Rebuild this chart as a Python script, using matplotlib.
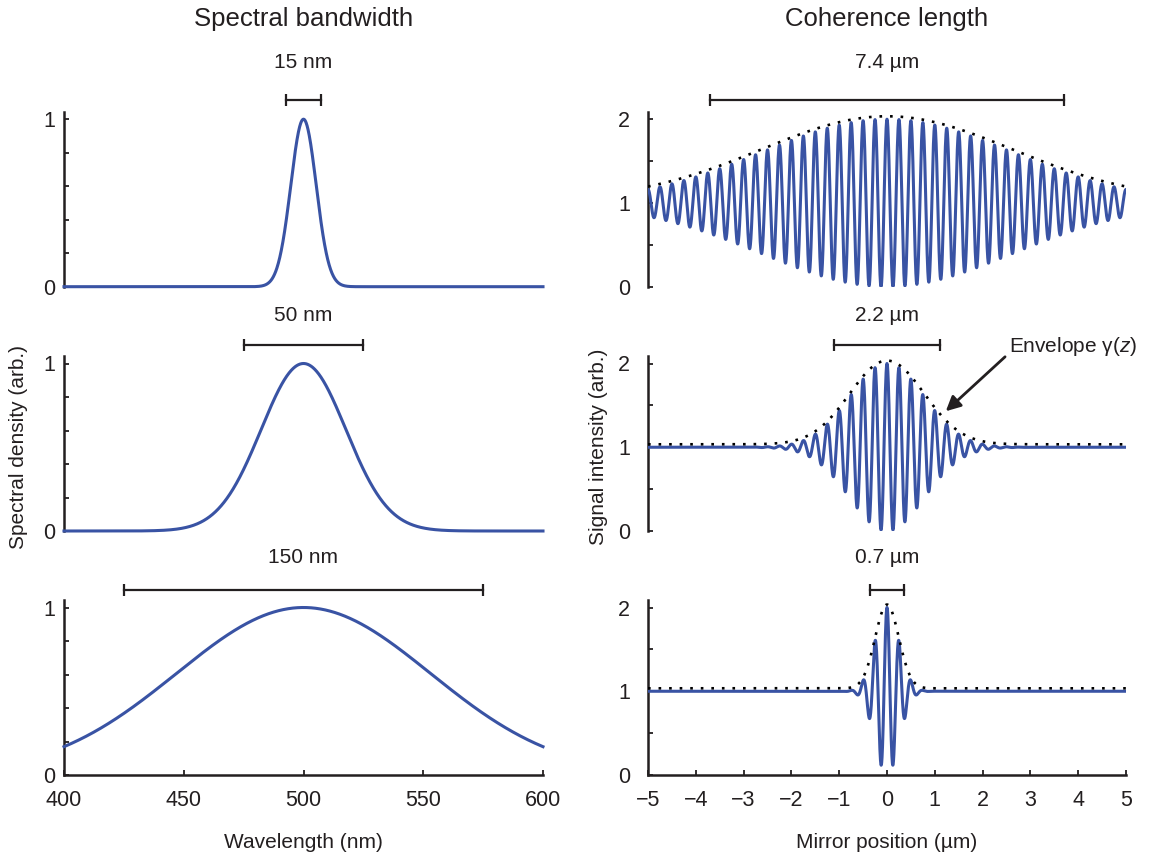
import numpy as np
import matplotlib
matplotlib.use('Agg')
import matplotlib.pyplot as plt

# ---------------- data ----------------
center_wavelength_nm = 500.0
bandwidths_nm = [15, 50, 150]                 # 1/e full widths of the spectra
bandwidth_labels = ['15 nm', '50 nm', '150 nm']
coherence_lengths_um = [7.4, 2.2, 0.7]        # 1/e full widths of the envelopes
coherence_labels = ['7.4 µm', '2.2 µm', '0.7 µm']
fringe_period_um = 0.25                       # lambda/2 in mirror position
wavelength_ticks = [400, 450, 500, 550, 600]
position_ticks = [-5, -4, -3, -2, -1, 0, 1, 2, 3, 4, 5]
spectral_yticks = [0, 0.2, 0.4, 0.6, 0.8, 1.0]
spectral_yticklabels = ['0', '', '', '', '', '1']
signal_yticks = [0, 0.5, 1, 1.5, 2]
signal_yticklabels = ['0', '', '1', '', '2']

# ---------------- style ----------------
plt.rcParams['font.family'] = ['Liberation Sans', 'DejaVu Sans']
plt.rcParams['mathtext.fontset'] = 'custom'
plt.rcParams['mathtext.rm'] = 'Liberation Sans'
plt.rcParams['mathtext.it'] = 'Liberation Sans:italic'
plt.rcParams['axes.unicode_minus'] = True

BLUE = '#3953a4'
INK = '#231f20'
FS = 15
TICK_FS = 15.5
W, H = 1149, 859

fig = plt.figure(figsize=(W / 100, H / 100), dpi=100)

def fig_rect(x0, y0, w, h):
    return [x0 / W, 1 - y0 / H, w / W, h / H]

row_base_px = [286.7, 531.0, 775.0]
unit_px = 167.5
ax_h_px = unit_px * 1.045
bar_frac = [1.115, 1.11, 1.104]
label_frac = [1.336, 1.284, 1.30]
env_offset = 0.035

wl = np.linspace(400, 600, 2001)
z = np.linspace(-5, 5, 8001)

def style_axes(ax, bottom):
    for s in ['top', 'right']:
        ax.spines[s].set_visible(False)
    ax.spines['left'].set_linewidth(1.8)
    ax.spines['left'].set_color(INK)
    if bottom:
        ax.spines['bottom'].set_linewidth(1.8)
        ax.spines['bottom'].set_color(INK)
    else:
        ax.spines['bottom'].set_visible(False)
        ax.set_xticks([])
    ax.tick_params(direction='in', length=3.5, width=1.3, color=INK,
                   labelsize=TICK_FS, labelcolor=INK)

axes_left, axes_right = [], []
for i in range(3):
    y0 = row_base_px[i]
    axl = fig.add_axes(fig_rect(64, y0, 479, ax_h_px))
    axr = fig.add_axes(fig_rect(648, y0, 478, ax_h_px))
    axes_left.append(axl)
    axes_right.append(axr)
    bottom = (i == 2)

    # ---- spectrum ----
    bw = bandwidths_nm[i]
    spec = np.exp(-((wl - center_wavelength_nm) / (bw / 2)) ** 2)
    axl.plot(wl, spec, color=BLUE, lw=2.2, clip_on=False, zorder=3)
    axl.set_xlim(400, 600)
    axl.set_ylim(0, 1.045)
    style_axes(axl, bottom)
    axl.set_yticks(spectral_yticks)
    axl.set_yticklabels(spectral_yticklabels)
    axl.tick_params(axis='y', pad=6.5)
    xb = [center_wavelength_nm - bw / 2, center_wavelength_nm + bw / 2]
    axl.plot(xb, [bar_frac[i]] * 2, color=INK, lw=1.6, marker='|', ms=9,
             mew=1.6, clip_on=False)
    axl.text(center_wavelength_nm, label_frac[i], bandwidth_labels[i],
             ha='center', va='center', fontsize=FS, color=INK)

    # ---- interferogram ----
    lc = coherence_lengths_um[i]
    env = np.exp(-(2 * z / lc) ** 2)
    sig = 1 + env * np.cos(2 * np.pi * z / fringe_period_um)
    axr.plot(z, sig, color=BLUE, lw=2.2, zorder=3)
    axr.plot(z, 1 + env_offset + env, color='black', lw=1.9,
             dashes=(1, 3.0), zorder=4)
    axr.set_xlim(-5, 5)
    axr.set_ylim(0, 2.09)
    style_axes(axr, bottom)
    axr.set_yticks(signal_yticks)
    axr.set_yticklabels(signal_yticklabels)
    axr.tick_params(axis='y', pad=13)
    axr.plot([-lc / 2, lc / 2], [2 * bar_frac[i]] * 2, color=INK, lw=1.6,
             marker='|', ms=9, mew=1.6, clip_on=False)
    axr.text(0, 2 * label_frac[i], coherence_labels[i],
             ha='center', va='center', fontsize=FS, color=INK)

    if bottom:
        axl.set_xticks(wavelength_ticks)
        axl.tick_params(axis='x', pad=11)
        axr.set_xticks(position_ticks)
        axr.tick_params(axis='x', pad=11)
        axl.set_xlabel('Wavelength (nm)', fontsize=FS, color=INK, labelpad=16)
        axr.set_xlabel('Mirror position (µm)', fontsize=FS, color=INK, labelpad=16)

# titles
axes_left[0].text(0.5, (286.7 - 19) / ax_h_px, 'Spectral bandwidth',
                  transform=axes_left[0].transAxes, ha='center', va='center',
                  fontsize=18.5, color=INK)
axes_right[0].text(0.5, (286.7 - 19) / ax_h_px, 'Coherence length',
                   transform=axes_right[0].transAxes, ha='center', va='center',
                   fontsize=18.5, color=INK)

# y labels
axes_left[1].set_ylabel('Spectral density (arb.)', fontsize=FS, color=INK)
axes_left[1].yaxis.set_label_coords((28 - 64) / 479, 0.48)
axes_right[1].set_ylabel('Signal intensity (arb.)', fontsize=FS, color=INK)
axes_right[1].yaxis.set_label_coords((608 - 648) / 478, 0.48)

# envelope annotation
axm = axes_right[1]
axm.text(2.55, 2.2, r'Envelope γ($\mathit{z}$)', ha='left', va='center',
         fontsize=FS, color=INK, clip_on=False)
axm.annotate('', xy=(1.23, 1.43), xytext=(2.47, 2.08),
             arrowprops=dict(arrowstyle='-|>', lw=2, color=INK,
                             mutation_scale=22, shrinkA=0, shrinkB=0),
             annotation_clip=False)

fig.savefig('out.png', dpi=100)
